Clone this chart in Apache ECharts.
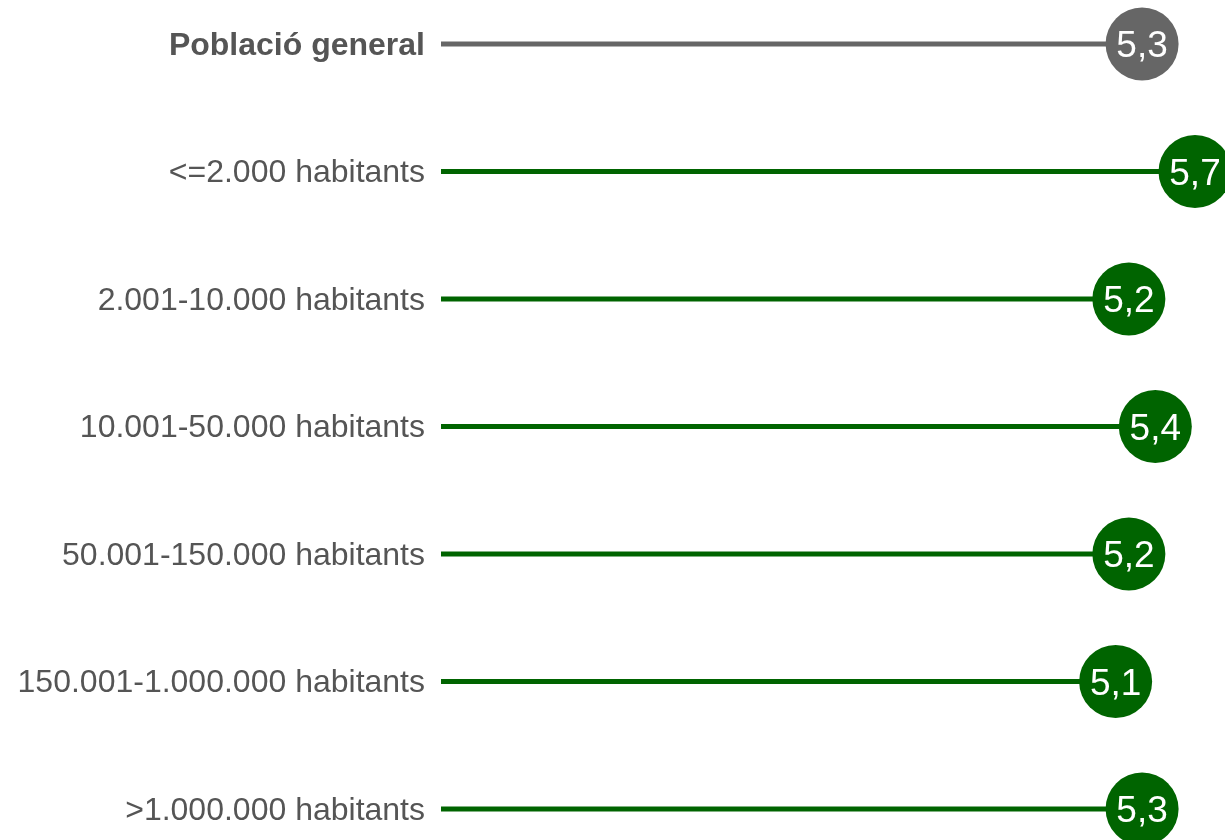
<!DOCTYPE html>
<html>
<head>
<meta charset="utf-8">
<script src="https://cdn.jsdelivr.net/npm/echarts@6/dist/echarts.min.js"></script>
<style>html,body{margin:0;padding:0;background:#fff;}#c{width:1225px;height:840px;}</style>
</head>
<body>
<div id="c"></div>
<script>
const categories = ["Població general", "<=2.000 habitants", "2.001-10.000 habitants", "10.001-50.000 habitants", "50.001-150.000 habitants", "150.001-1.000.000 habitants", ">1.000.000 habitants"];
const values = [5.3, 5.7, 5.2, 5.4, 5.2, 5.1, 5.3];
const groups = ["general", "size", "size", "size", "size", "size", "size"];
const colorsByGroup = { general: "#666666", size: "#006400" };

const chart = echarts.init(document.getElementById('c'));
const itemColors = groups.map(g => colorsByGroup[g]);
chart.setOption({
  animation: false,
  backgroundColor: '#ffffff',
  grid: { left: 441, right: 30, top: 44, bottom: 31, containLabel: false },
  xAxis: { type: 'value', min: 0, max: 5.7, show: false },
  yAxis: {
    type: 'category', data: categories, inverse: true, boundaryGap: false,
    axisLine: { show: false }, axisTick: { show: false }, splitLine: { show: false },
    axisLabel: {
      margin: 16, fontFamily: 'Liberation Sans, Arial, sans-serif', fontSize: 32, color: '#555555',
      padding: [4, 0, 0, 0],
      formatter: (v, i) => i === 0 ? '{b|' + v + '}' : v,
      rich: { b: { fontWeight: 'bold', fontFamily: 'Liberation Sans, Arial, sans-serif', fontSize: 32, color: '#555555' } }
    }
  },
  series: [
    {
      type: 'bar', barWidth: 5, silent: true,
      data: values.map((v, i) => ({ value: v, itemStyle: { color: itemColors[i] } })),
      z: 2
    },
    {
      type: 'scatter', symbol: 'circle', symbolSize: 73, clip: false,
      itemStyle: { opacity: 1 },
      data: values.map((v, i) => ({ value: [v, i], itemStyle: { color: itemColors[i], opacity: 1 } })),
      label: {
        show: true, position: 'inside', color: '#ffffff',
        fontFamily: 'Liberation Sans, Arial, sans-serif', fontSize: 37,
        offset: [0, 3],
        formatter: p => String(p.value[0].toFixed(1)).replace('.', ',')
      },
      z: 3
    }
  ]
});
</script>
</body>
</html>
